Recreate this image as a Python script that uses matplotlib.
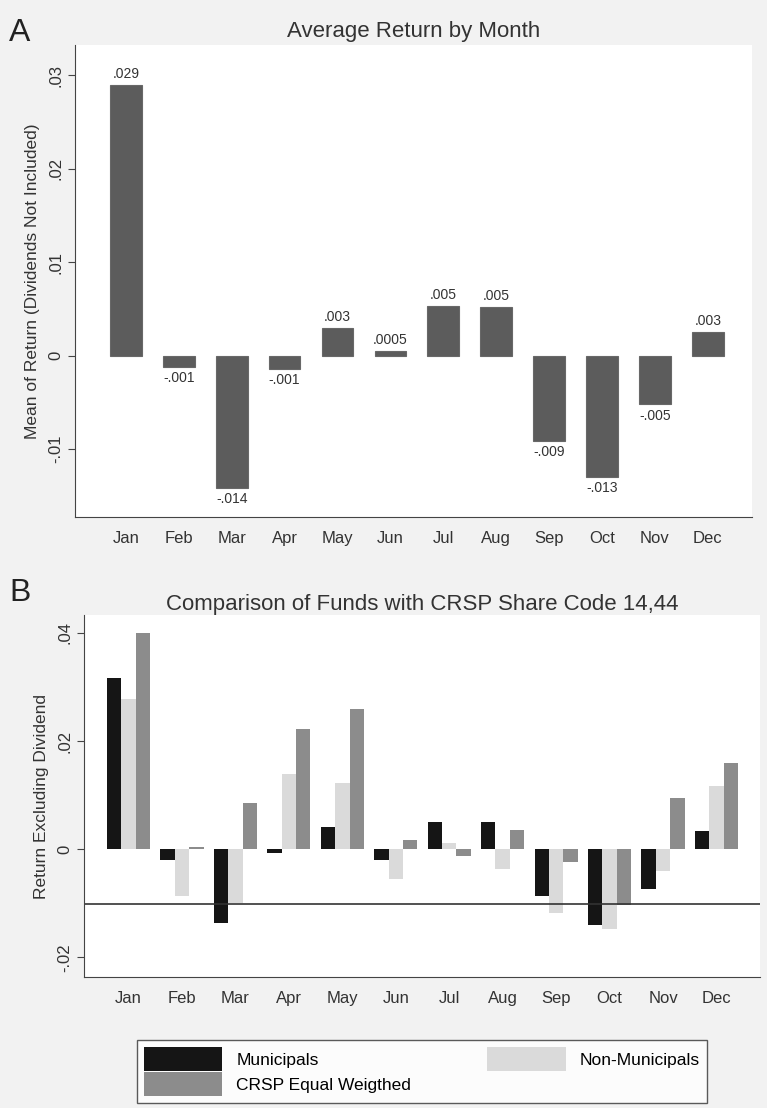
import numpy as np
import matplotlib.pyplot as plt

plt.rcParams['font.family'] = ['Liberation Sans', 'DejaVu Sans']

months = ['Jan', 'Feb', 'Mar', 'Apr', 'May', 'Jun', 'Jul', 'Aug', 'Sep', 'Oct', 'Nov', 'Dec']

# panel A: mean monthly return
avg_ret = [0.029, -0.0012, -0.0141, -0.0014, 0.0030, 0.0005, 0.0053, 0.0052, -0.0091, -0.0130, -0.0052, 0.0025]
avg_lbl = ['.029', '-.001', '-.014', '-.001', '.003', '.0005', '.005', '.005', '-.009', '-.013', '-.005', '.003']

# panel B: three groups
muni = [0.0317, -0.0020, -0.0137, -0.0008, 0.0041, -0.0020, 0.0051, 0.0051, -0.0086, -0.0140, -0.0073, 0.0034]
nonmuni = [0.0278, -0.0087, -0.0100, 0.0138, 0.0123, -0.0055, 0.0011, -0.0036, -0.0119, -0.0147, -0.0040, 0.0116]
crsp = [0.0400, 0.0003, 0.0086, 0.0222, 0.0259, 0.0016, -0.0013, 0.0035, -0.0023, -0.0103, 0.0095, 0.0159]
ref_line = -0.0102

fig = plt.figure(figsize=(7.67, 11.08), dpi=100, facecolor='#f2f2f2')

x = np.arange(len(months))

# ---- panel A
ax1 = fig.add_axes([0.098, 0.533, 0.882, 0.426])
ax1.bar(x, avg_ret, width=0.6, color='#5c5c5c', edgecolor='#686868', linewidth=0.8)
for i in range(len(x)):
    v = avg_ret[i]
    if v >= 0:
        ax1.annotate(avg_lbl[i], (x[i], v), xytext=(0, 3), textcoords='offset points',
                     ha='center', va='bottom', fontsize=10, color='#333333')
    else:
        ax1.annotate(avg_lbl[i], (x[i], v), xytext=(0, -3), textcoords='offset points',
                     ha='center', va='top', fontsize=10, color='#333333')
ax1.set_xlim(-0.96, 11.83)
ax1.set_ylim(-0.0173, 0.0332)
ax1.set_yticks([-0.01, 0, 0.01, 0.02, 0.03])
ax1.set_yticklabels(['-.01', '0', '.01', '.02', '.03'], rotation=90, va='center')
ax1.set_xticks(x)
ax1.set_xticklabels(months)
ax1.set_ylabel('Mean of Return (Dividends Not Included)', fontsize=12.5, color='#333333', labelpad=6)
ax1.set_title('Average Return by Month', fontsize=16, color='#333333', pad=6)
fig.text(0.012, 0.963, 'A', fontsize=23, color='#222222')

# ---- panel B
ax2 = fig.add_axes([0.1095, 0.118, 0.882, 0.327])
w = 0.27
ax2.bar(x - w, muni, width=w, color='#151515', label='Municipals')
ax2.bar(x + w, crsp, width=w, color='#8c8c8c', label='CRSP Equal Weigthed')
ax2.bar(x, nonmuni, width=w, color='#dadada', label='Non-Municipals')
ax2.axhline(ref_line, color='#333333', linewidth=1.2)
ax2.set_xlim(-0.83, 11.82)
ax2.set_ylim(-0.0237, 0.0433)
ax2.set_yticks([-0.02, 0, 0.02, 0.04])
ax2.set_yticklabels(['-.02', '0', '.02', '.04'], rotation=90, va='center')
ax2.set_xticks(x)
ax2.set_xticklabels(months)
ax2.set_ylabel('Return Excluding Dividend', fontsize=12.5, color='#333333', labelpad=6)
ax2.set_title('Comparison of Funds with CRSP Share Code 14,44', fontsize=16, color='#333333', pad=-2)
fig.text(0.012, 0.458, 'B', fontsize=23, color='#222222')

h, l = ax2.get_legend_handles_labels()
leg = fig.legend(h, l, ncol=2, loc='lower center', bbox_to_anchor=(0.550, 0.0),
                 fontsize=12.5, handlelength=4.5, handleheight=1.7, columnspacing=4.4,
                 labelspacing=0.1, handletextpad=0.8, frameon=True, fancybox=False,
                 edgecolor='#333333', borderpad=0.4, borderaxespad=0.3)
leg.get_frame().set_linewidth(1.0)

for ax in (ax1, ax2):
    ax.set_facecolor('white')
    ax.spines['top'].set_visible(False)
    ax.spines['right'].set_visible(False)
    ax.spines['left'].set_color('#444444')
    ax.spines['bottom'].set_color('#444444')
    ax.tick_params(axis='both', labelsize=12, colors='#444444', labelcolor='#333333', length=5)
    ax.tick_params(axis='x', length=0, pad=10)

fig.savefig('out.png', dpi=100, facecolor=fig.get_facecolor())
